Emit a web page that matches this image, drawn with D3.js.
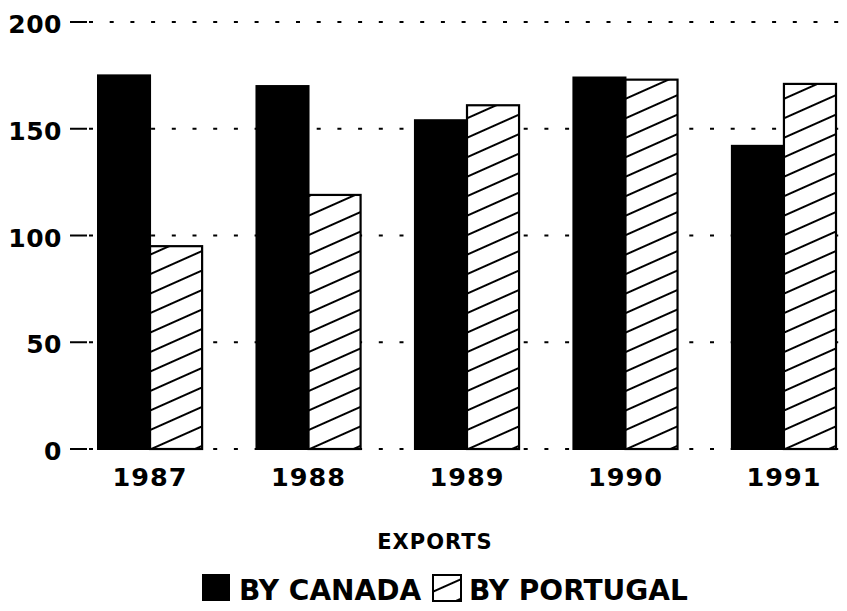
<!DOCTYPE html>
<html>
<head>
<meta charset="utf-8">
<script src="https://cdn.jsdelivr.net/npm/d3@7"></script>
<style>
  body { margin: 0; background: #fff; }
  text { font-family: "DejaVu Sans", sans-serif; font-weight: bold; fill: #000; }
</style>
</head>
<body>
<div id="chart"></div>
<script>
var years = ["1987", "1988", "1989", "1990", "1991"];
var canadaValues = [175, 170, 154, 174, 142];
var portugalValues = [95, 119, 161, 173, 171];
var yTicks = [0, 50, 100, 150, 200];
var seriesNames = ["BY CANADA", "BY PORTUGAL"];
var axisTitle = "EXPORTS";

function exportsBarPlot(parentElementId) {
    var chartWidth = 847,
        chartHeight = 611,
        gridLeft = 70,
        gridRight = 840;

    var chart = d3.select("#" + parentElementId).append("svg")
        .attr("width", chartWidth)
        .attr("height", chartHeight);

    var defs = chart.append("defs");
    var hatch = defs.append("pattern")
        .attr("id", "hatch")
        .attr("patternUnits", "userSpaceOnUse")
        .attr("width", 10)
        .attr("height", 17.8)
        .attr("patternTransform", "translate(0,4) rotate(-24)");
    hatch.append("rect")
        .attr("width", 10)
        .attr("height", 17.8)
        .attr("fill", "#fff");
    hatch.append("line")
        .attr("x1", 0).attr("x2", 10)
        .attr("y1", 1).attr("y2", 1)
        .attr("stroke", "#000")
        .attr("stroke-width", 2);

    var x0 = d3.scaleBand()
        .domain(years)
        .range([98, 836])
        .paddingInner(0.343)
        .paddingOuter(0);

    var x1 = d3.scaleBand()
        .domain(["canada", "portugal"])
        .range([0, x0.bandwidth()]);

    var y = d3.scaleLinear()
        .domain([0, 200])
        .range([449, 22]);

    // dotted grid + short solid ticks
    var grid = chart.append("g").selectAll("g")
        .data(yTicks)
        .enter().append("g");
    grid.append("line")
        .attr("x1", gridLeft + 19)
        .attr("x2", gridRight)
        .attr("y1", function(d) { return y(d); })
        .attr("y2", function(d) { return y(d); })
        .attr("stroke", "#000")
        .attr("stroke-width", 2)
        .attr("stroke-dasharray", "4,16.7");
    grid.append("line")
        .attr("x1", gridLeft)
        .attr("x2", gridLeft + 17)
        .attr("y1", function(d) { return y(d); })
        .attr("y2", function(d) { return y(d); })
        .attr("stroke", "#000")
        .attr("stroke-width", 2);
    grid.append("text")
        .attr("x", 62)
        .attr("y", function(d) { return y(d) + 11; })
        .style("text-anchor", "end")
        .style("font-size", "25px")
        .style("letter-spacing", "0.5px")
        .text(function(d) { return d; });

    var rows = years.map(function(yr, i) {
        return {year: yr, canada: canadaValues[i], portugal: portugalValues[i]};
    });

    var barGroups = chart.append("g").selectAll("g")
        .data(rows)
        .enter().append("g")
            .attr("transform", function(d) {
                return "translate(" + x0(d.year) + ",0)";
            });

    barGroups.append("rect")
        .attr("x", x1("canada"))
        .attr("y", function(d) { return y(d.canada); })
        .attr("width", x1.bandwidth())
        .attr("height", function(d) { return y(0) - y(d.canada); })
        .attr("fill", "#000")
        .attr("stroke", "#000")
        .attr("stroke-width", 2);

    barGroups.append("rect")
        .attr("x", x1("portugal"))
        .attr("y", function(d) { return y(d.portugal); })
        .attr("width", x1.bandwidth())
        .attr("height", function(d) { return y(0) - y(d.portugal); })
        .attr("fill", "url(#hatch)")
        .attr("stroke", "#000")
        .attr("stroke-width", 2.2);

    barGroups.append("text")
        .attr("x", x0.bandwidth() / 2)
        .attr("y", 486)
        .style("text-anchor", "middle")
        .style("font-size", "25.5px")
        .style("letter-spacing", "1px")
        .text(function(d) { return d.year; });

    chart.append("text")
        .attr("x", 435)
        .attr("y", 549)
        .style("text-anchor", "middle")
        .style("font-size", "21px")
        .style("letter-spacing", "1px")
        .text(axisTitle);

    // legend
    var legend = chart.append("g");
    legend.append("rect")
        .attr("x", 202).attr("y", 574)
        .attr("width", 28).attr("height", 27)
        .attr("fill", "#000");
    legend.append("text")
        .attr("x", 239).attr("y", 600)
        .style("font-size", "28px")
        .text(seriesNames[0]);
    legend.append("rect")
        .attr("x", 433).attr("y", 575)
        .attr("width", 28).attr("height", 26)
        .attr("fill", "url(#hatch)")
        .attr("stroke", "#000")
        .attr("stroke-width", 2);
    legend.append("text")
        .attr("x", 469).attr("y", 600)
        .style("font-size", "28px")
        .text(seriesNames[1]);
}

exportsBarPlot("chart");
</script>
</body>
</html>
